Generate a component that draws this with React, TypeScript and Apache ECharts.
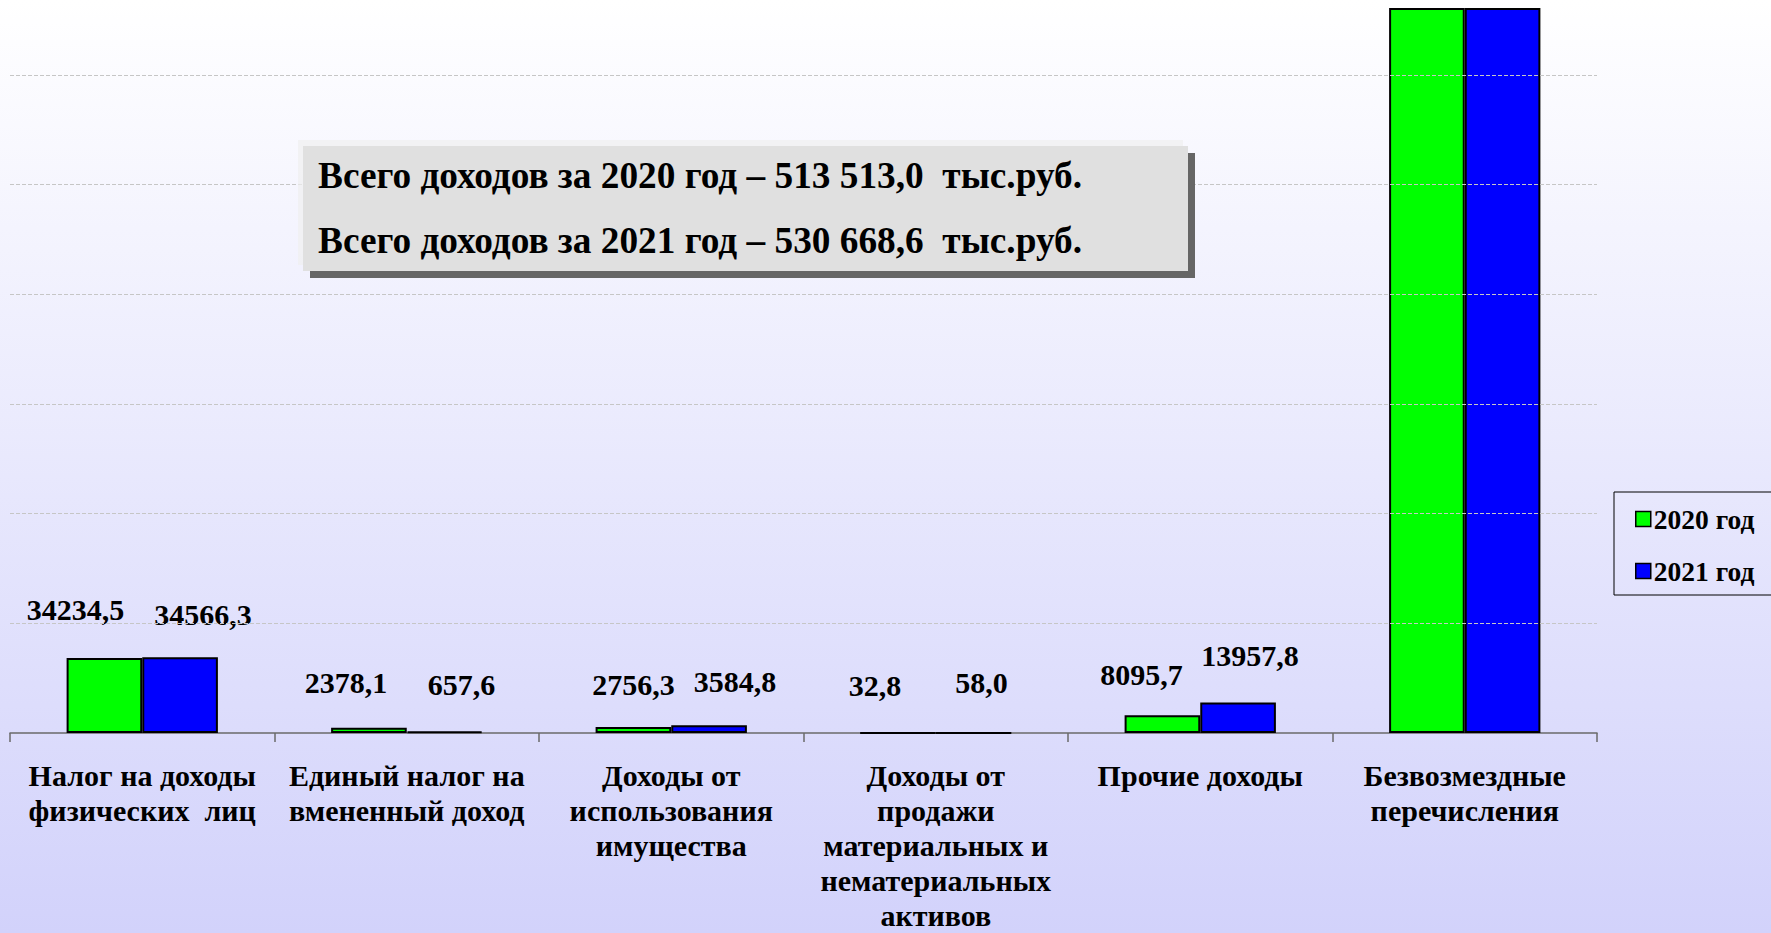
import React, { useEffect, useRef } from "react";
import * as echarts from "echarts";

const categories = [
  "Налог на доходы\nфизических  лиц",
  "Единый налог на\nвмененный доход",
  "Доходы от\nиспользования\nимущества",
  "Доходы от\nпродажи\nматериальных и\nнематериальных\nактивов",
  "Прочие доходы",
  "Безвозмездные\nперечисления",
];
const seriesNames = ["2020 год", "2021 год"];
const values2020 = [34234.5, 2378.1, 2756.3, 32.8, 8095.7, 466015.6];
const values2021 = [34566.3, 657.6, 3584.8, 58.0, 13957.8, 477844.1];
const gridValues = [50000, 100000, 150000, 200000, 250000, 300000];
const totalLines = [
  "Всего доходов за 2020 год – 513 513,0  тыс.руб.",
  "Всего доходов за 2021 год – 530 668,6  тыс.руб.",
];

// label nudges (px) relative to default "top" placement
const labelShift2020 = [[-29, -3], [-23, 0], [0, 3], [-23, -1], [-21, 4], [0, 0]];
const labelShift2021 = [[23, 2], [17, -2], [26, 1], [8, -4], [12, -2], [0, 0]];

const Y_MAX = 330000;
const FONT = "'Liberation Serif', 'Times New Roman', serif";

function fmt(v: number) {
  return v.toFixed(1).replace(".", ",");
}

function buildData(values: number[], shifts: number[][]) {
  return values.map((v, i) => ({
    value: v,
    label: { show: v < Y_MAX, offset: shifts[i] },
  }));
}

export default function App() {
  const ref = useRef<HTMLDivElement>(null);
  useEffect(() => {
    if (!ref.current) return;
    const chart = echarts.init(ref.current, null, { renderer: "svg" });
    const labelStyle = {
      position: "top" as const,
      distance: 30,
      fontFamily: FONT,
      fontWeight: "bold" as const,
      fontSize: 30,
      color: "#000",
      formatter: (p: any) => fmt(p.value),
    };
    chart.setOption({
      animation: false,
      backgroundColor: {
        type: "linear",
        x: 0,
        y: 0,
        x2: 0,
        y2: 1,
        colorStops: [
          { offset: 0, color: "#ffffff" },
          { offset: 1, color: "#d2d2fb" },
        ],
      },
      grid: { left: 10, right: 174, top: 9, bottom: 192, containLabel: false },
      legend: {
        data: seriesNames,
        orient: "vertical",
        left: 1614,
        top: 492,
        borderColor: "#000",
        borderWidth: 1,
        padding: [13, 22, 10, 21],
        itemWidth: 15,
        itemHeight: 15,
        itemGap: 24,
        icon: "rect",
        itemStyle: { borderColor: "#000", borderWidth: 1.5 },
        textStyle: { fontFamily: FONT, fontWeight: "bold", fontSize: 27.5, color: "#000", padding: [0, 0, 0, -2] },
      },
      xAxis: {
        type: "category",
        data: categories,
        axisLine: { lineStyle: { color: "#6a6a6a", width: 1.5 } },
        axisTick: { show: true, length: 9, lineStyle: { color: "#6a6a6a", width: 1.5 } },
        axisLabel: {
          interval: 0,
          margin: 25,
          fontFamily: FONT,
          fontWeight: "bold",
          fontSize: 30,
          lineHeight: 35,
          color: "#000",
          align: "center",
        },
      },
      yAxis: {
        type: "value",
        min: 0,
        max: Y_MAX,
        axisLine: { show: false },
        axisTick: { show: false },
        axisLabel: { show: false },
        splitLine: { show: false },
      },
      series: [
        {
          type: "line",
          data: [],
          z: 0,
          silent: true,
          markLine: {
            silent: true,
            symbol: ["none", "none"],
            label: { show: false },
            lineStyle: { color: "#c6c6c6", type: [4, 2], width: 1 },
            data: gridValues.map((v) => ({ yAxis: v })),
          },
        },
        {
          name: seriesNames[0],
          type: "bar",
          barWidth: "28.6%",
          barGap: "0%",
          z: 3,
          itemStyle: { color: "#00ff00", borderColor: "#000", borderWidth: 2 },
          label: labelStyle,
          data: buildData(values2020, labelShift2020),
        },
        {
          name: seriesNames[1],
          type: "bar",
          barWidth: "28.6%",
          barGap: "0%",
          z: 3,
          itemStyle: { color: "#0000ff", borderColor: "#000", borderWidth: 2 },
          label: labelStyle,
          data: buildData(values2021, labelShift2021),
        },
      ],
      graphic: [
        { type: "rect", shape: { x: 298, y: 140, width: 885, height: 125 }, style: { fill: "rgba(240,240,240,0.7)" }, z: 10 },
        { type: "rect", shape: { x: 310, y: 153, width: 885, height: 125 }, style: { fill: "#666666" }, z: 10 },
        { type: "rect", shape: { x: 303, y: 146, width: 885, height: 125 }, style: { fill: "#e0e0e0" }, z: 11 },
        {
          type: "text",
          x: 318,
          y: 175,
          z: 12,
          style: { text: totalLines[0], font: `bold 37.3px ${FONT}`, fill: "#000", verticalAlign: "middle" },
        },
        {
          type: "text",
          x: 318,
          y: 240,
          z: 12,
          style: { text: totalLines[1], font: `bold 37.3px ${FONT}`, fill: "#000", verticalAlign: "middle" },
        },
      ],
    });
    return () => chart.dispose();
  }, []);
  return (
    <div
      ref={ref}
      style={{ position: "absolute", left: 0, top: 0, width: 1771, height: 933 }}
    />
  );
}
